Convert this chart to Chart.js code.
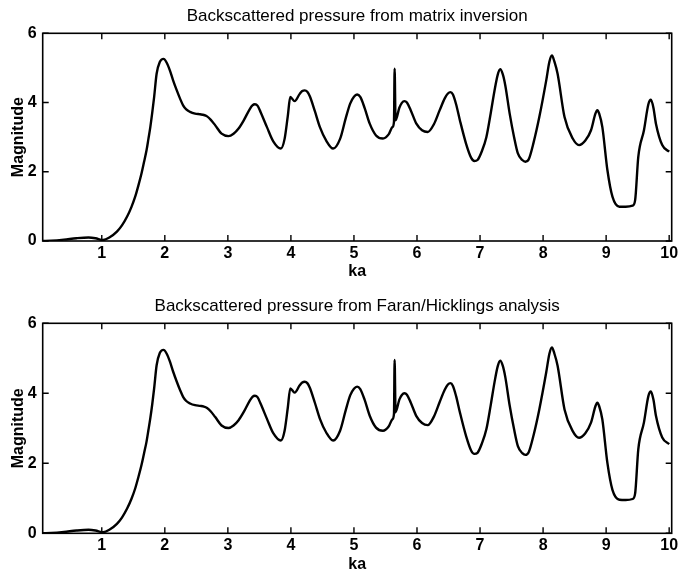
<!DOCTYPE html>
<html><head><meta charset="utf-8">
<script src="https://cdn.jsdelivr.net/npm/chart.js@4/dist/chart.umd.min.js"></script>
<style>
html,body{margin:0;padding:0;background:#fff;}
#c1{position:absolute;left:0;top:0;}
#c2{position:absolute;left:0;top:290px;}
</style></head><body>
<canvas id="c1" width="679" height="290"></canvas>
<canvas id="c2" width="679" height="285"></canvas>
<script>
// ---- data ----
const titleMatrix = 'Backscattered pressure from matrix inversion';
const titleFaran = 'Backscattered pressure from Faran/Hicklings analysis';
const xAxisLabel = 'ka';
const yAxisLabel = 'Magnitude';
const xTickValues = [1, 2, 3, 4, 5, 6, 7, 8, 9, 10];
const yTickValues = [0, 2, 4, 6];

const kaValues = [
  0.063, 0.2, 0.4, 0.6, 0.79, 0.9, 1.02, 1.12, 1.24, 1.32, 1.40, 1.47, 1.53, 1.58, 1.63, 1.67, 1.71, 1.74, 1.77, 1.80,
  1.83, 1.87, 1.92, 1.98, 2.03, 2.08, 2.13, 2.19, 2.24, 2.29, 2.34, 2.40, 2.48, 2.56, 2.62, 2.67, 2.73, 2.80, 2.90, 3.01,
  3.09, 3.17, 3.25, 3.35, 3.39, 3.43, 3.47, 3.52, 3.62, 3.72, 3.84, 3.90, 3.95, 3.99, 4.06, 4.14, 4.18, 4.22, 4.26, 4.30,
  4.38, 4.46, 4.56, 4.67, 4.78, 4.87, 4.94, 5.00, 5.05, 5.10, 5.17, 5.25, 5.35, 5.46, 5.55, 5.61, 5.635, 5.645, 5.66, 5.72,
  5.76, 5.80, 5.84, 5.90, 5.99, 6.08, 6.17, 6.27, 6.36, 6.44, 6.49, 6.53, 6.57, 6.62, 6.68, 6.78, 6.86, 6.91, 6.96, 7.03,
  7.10, 7.17, 7.23, 7.28, 7.32, 7.36, 7.40, 7.47, 7.54, 7.60, 7.67, 7.72, 7.77, 7.85, 7.94, 8.05, 8.10, 8.14, 8.18, 8.23,
  8.34, 8.47, 8.57, 8.67, 8.76, 8.83, 8.86, 8.89, 8.94, 9.02, 9.10, 9.21, 9.31, 9.42, 9.46, 9.51, 9.60, 9.67, 9.71, 9.75,
  9.79, 9.89, 10.0];

const magMatrix = [
  0.0, 0.01, 0.04, 0.08, 0.10, 0.08, 0.03, 0.10, 0.27, 0.45, 0.70, 0.98, 1.28, 1.60, 1.95, 2.28, 2.62, 2.95, 3.29, 3.70,
  4.15, 4.83, 5.17, 5.26, 5.15, 4.93, 4.65, 4.35, 4.12, 3.92, 3.80, 3.73, 3.68, 3.66, 3.64, 3.60, 3.50, 3.34, 3.10, 3.03,
  3.10, 3.25, 3.48, 3.82, 3.92, 3.95, 3.91, 3.72, 3.29, 2.88, 2.67, 2.95, 3.6, 4.16, 4.04, 4.25, 4.33, 4.35, 4.31, 4.18,
  3.75, 3.29, 2.90, 2.67, 2.95, 3.55, 3.97, 4.17, 4.23, 4.16, 3.84, 3.39, 3.05, 2.96, 3.08, 3.29, 3.45, 4.98, 3.49, 3.85,
  3.99, 4.04, 4.00, 3.78, 3.39, 3.20, 3.15, 3.38, 3.78, 4.12, 4.26, 4.30, 4.23, 3.95, 3.49, 2.80, 2.40, 2.31, 2.34, 2.60,
  3.0, 3.7, 4.35, 4.80, 4.96, 4.82, 4.50, 3.68, 3.0, 2.53, 2.34, 2.29, 2.35, 2.85, 3.58, 4.64, 5.18, 5.36, 5.18, 4.83,
  3.58, 2.96, 2.77, 2.90, 3.20, 3.68, 3.78, 3.68, 3.29, 2.05, 1.28, 0.99, 0.99, 1.02, 1.18, 2.43, 3.2, 3.95, 4.08, 3.85,
  3.39, 2.77, 2.58];

const magFaran = [
  0.0, 0.01, 0.04, 0.08, 0.10, 0.08, 0.03, 0.10, 0.27, 0.45, 0.70, 0.98, 1.28, 1.60, 1.95, 2.28, 2.62, 2.95, 3.29, 3.68,
  4.13, 4.80, 5.15, 5.24, 5.13, 4.91, 4.63, 4.33, 4.10, 3.90, 3.78, 3.71, 3.66, 3.64, 3.62, 3.58, 3.48, 3.32, 3.08, 3.01,
  3.08, 3.23, 3.46, 3.80, 3.90, 3.93, 3.89, 3.70, 3.27, 2.86, 2.65, 2.93, 3.58, 4.14, 4.02, 4.23, 4.31, 4.33, 4.29, 4.16,
  3.73, 3.27, 2.88, 2.65, 2.93, 3.52, 3.94, 4.13, 4.19, 4.12, 3.81, 3.36, 3.02, 2.93, 3.05, 3.26, 3.42, 4.95, 3.46, 3.82,
  3.95, 4.00, 3.96, 3.74, 3.35, 3.15, 3.09, 3.34, 3.75, 4.10, 4.25, 4.29, 4.21, 3.92, 3.46, 2.77, 2.36, 2.27, 2.30, 2.57,
  2.97, 3.67, 4.32, 4.77, 4.93, 4.79, 4.47, 3.65, 2.97, 2.49, 2.29, 2.24, 2.31, 2.81, 3.54, 4.60, 5.13, 5.31, 5.13, 4.79,
  3.54, 2.92, 2.73, 2.86, 3.16, 3.63, 3.73, 3.63, 3.25, 2.01, 1.24, 0.96, 0.95, 0.98, 1.14, 2.40, 3.17, 3.92, 4.05, 3.82,
  3.36, 2.74, 2.55];

// ---- drawing ----
Chart.defaults.font.family = "'Liberation Sans', Arial, Helvetica, sans-serif";
Chart.defaults.color = '#000';

const framePlugin = {
  id: 'frame',
  afterDraw(chart) {
    const {ctx, chartArea: a, scales} = chart;
    const x = scales.x, y = scales.y;
    const L = 6;
    ctx.save();
    ctx.strokeStyle = '#000';
    ctx.lineWidth = 1.6;
    ctx.strokeRect(a.left, a.top, a.right - a.left, a.bottom - a.top);
    ctx.lineWidth = 1.4;
    ctx.beginPath();
    x.ticks.forEach(t => {
      const px = x.getPixelForValue(t.value);
      ctx.moveTo(px, a.bottom); ctx.lineTo(px, a.bottom - L);
      ctx.moveTo(px, a.top); ctx.lineTo(px, a.top + L);
    });
    y.ticks.forEach(t => {
      const py = y.getPixelForValue(t.value);
      ctx.moveTo(a.left, py); ctx.lineTo(a.left + L, py);
      ctx.moveTo(a.right, py); ctx.lineTo(a.right - L, py);
    });
    ctx.stroke();
    ctx.restore();
  }
};

function makeChart(id, ka, mag, title, g) {
  const pts = ka.map((k, i) => ({x: k, y: mag[i]}));
  return new Chart(document.getElementById(id), {
    type: 'line',
    data: {datasets: [{
      data: pts,
      borderColor: '#000',
      borderWidth: 2.4,
      pointRadius: 0,
      fill: false,
      cubicInterpolationMode: 'monotone'
    }]},
    options: {
      responsive: false,
      animation: false,
      events: [],
      layout: {padding: {left: 0, right: 7.3, top: 0, bottom: 0}},
      plugins: {
        legend: {display: false},
        tooltip: {enabled: false},
        title: {
          display: true, text: title, fullSize: false, color: '#000',
          font: {size: 17, weight: 'normal', lineHeight: 1.2},
          padding: {top: 5.8, bottom: 7.1}
        }
      },
      scales: {
        x: {
          type: 'linear', min: 0.063, max: 10.04,
          grid: {display: false, drawTicks: false},
          border: {display: false},
          afterBuildTicks: s => { s.ticks = xTickValues.map(v => ({value: v})); },
          afterFit: s => { s.height = g.xHeight; s.paddingLeft = 0; s.paddingRight = 0; },
          ticks: {padding: g.tickPad, maxRotation: 0, autoSkip: false,
            font: {size: 16, weight: 'bold', lineHeight: 1.2}, color: '#000',
            callback: v => String(v)},
          title: {display: true, text: xAxisLabel, color: '#000',
            font: {size: 16, weight: 'bold', lineHeight: 1.2},
            padding: {top: 0, bottom: g.kaPad}}
        },
        y: {
          type: 'linear', min: 0, max: 6,
          grid: {display: false, drawTicks: false},
          border: {display: false},
          afterBuildTicks: s => { s.ticks = yTickValues.map(v => ({value: v})); },
          afterFit: s => { s.width = 42.7; s.paddingTop = 0; s.paddingBottom = 0; },
          ticks: {padding: 6, font: {size: 16, weight: 'bold', lineHeight: 1.2}, color: '#000',
            callback: v => String(v)},
          title: {display: true, text: yAxisLabel, color: '#000',
            font: {size: 16, weight: 'bold', lineHeight: 1.2},
            padding: {top: 8.9, bottom: 0}}
        }
      }
    },
    plugins: [framePlugin]
  });
}

makeChart('c1', kaValues, magMatrix, titleMatrix, {xHeight: 49, tickPad: 2.5, kaPad: 8.4});
makeChart('c2', kaValues, magFaran, titleFaran, {xHeight: 41.7, tickPad: 2.5, kaPad: 0.4});
</script>
</body></html>
